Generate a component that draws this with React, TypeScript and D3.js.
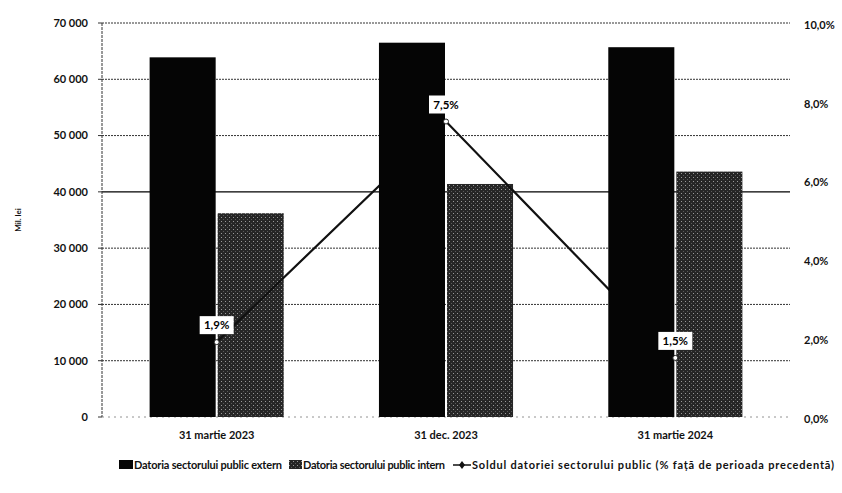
import * as d3 from 'd3';
import React from 'react';

const categories = ["31 martie 2023", "31 dec. 2023", "31 martie 2024"];
const externValues = [63900, 66500, 65700];
const internValues = [36200, 41400, 43600];
const soldValues = [1.9, 7.5, 1.5];
const soldLabels = ["1,9%", "7,5%", "1,5%"];
const leftTicks = [0, 10000, 20000, 30000, 40000, 50000, 60000, 70000];
const rightTicks = [0, 2, 4, 6, 8, 10];

const width = 842;
const height = 493;
const margin = { top: 23, right: 52, bottom: 76, left: 102 };
const font = "Lato, 'Open Sans', sans-serif";

function App(): any {
  const x = d3.scaleBand()
    .domain(categories)
    .range([margin.left, width - margin.right]);

  const yLeft = d3.scaleLinear()
    .domain([0, 70000])
    .range([height - margin.bottom, margin.top]);

  const yRight = d3.scaleLinear()
    .domain([0, 10])
    .range([height - margin.bottom, margin.top]);

  const barW = x.bandwidth() * 0.288;
  const gap = 2;
  const center = (c: string): number => (x(c) || 0) + x.bandwidth() / 2;
  const fmt = (v: number): string => d3.format(",")(v).replace(/,/g, " ");

  const line = d3.line<number>()
    .x((_d, i) => center(categories[i]))
    .y((d) => yRight(d));

  const base = yLeft(0);

  return (
    <svg width={width} height={height}
      style={{ position: "absolute", left: 0, top: 0, background: "#fff" }}>
      <defs>
        <pattern id="dots" width="4" height="4" patternUnits="userSpaceOnUse">
          <rect width="4" height="4" fill="#262626" />
          <rect x="1" y="1" width="1" height="1" fill="#9a9a9a" />
          <rect x="3" y="3" width="1" height="1" fill="#5a5a5a" />
        </pattern>
      </defs>

      {/* gridlines */}
      {leftTicks.filter((t) => t > 0).map((t) => (
        <line key={t} x1={margin.left} x2={width - margin.right}
          y1={yLeft(t)} y2={yLeft(t)}
          stroke={t === 40000 ? "#000" : "#333"}
          strokeWidth={t === 40000 ? 1.3 : 1}
          strokeDasharray={t === 40000 ? undefined : "2,1"} />
      ))}

      {/* y axis line */}
      <line x1={margin.left} x2={margin.left} y1={margin.top} y2={base}
        stroke="#333" strokeWidth={1} strokeDasharray="3,1" />
      <line x1={margin.left} x2={width - margin.right} y1={base} y2={base}
        stroke="#777" strokeWidth={0.8} strokeDasharray="2,4" />

      {/* left ticks */}
      {leftTicks.map((t) => (
        <g key={t}>
          <line x1={margin.left - 4} x2={margin.left} y1={yLeft(t)} y2={yLeft(t)} stroke="#333" />
          <text x={margin.left - 14} y={yLeft(t)} dy="0.35em" textAnchor="end"
            fontFamily={font} fontWeight="bold" fontSize={11} fill="#111">{fmt(t)}</text>
        </g>
      ))}

      {/* right ticks */}
      {rightTicks.map((t) => (
        <text key={t} x={804} y={yRight(t) + 2} dy="0.35em" textAnchor="start"
          fontFamily={font} fontWeight="bold" fontSize={11} fill="#111">
          {t.toFixed(1).replace(".", ",") + "%"}
        </text>
      ))}

      <text transform={`translate(21,${yLeft(35000)}) rotate(-90)`} textAnchor="middle"
        fontFamily={font} fontWeight="bold" fontSize={8} fill="#111">Mil. lei</text>

      {/* intern bars */}
      {categories.map((c, i) => (
        <rect key={c} x={center(c) + gap / 2} width={barW}
          y={yLeft(internValues[i])} height={base - yLeft(internValues[i])} fill="url(#dots)" />
      ))}

      {/* line series */}
      <path d={line(soldValues) || ""} fill="none" stroke="#111" strokeWidth={2.2} />

      {/* extern bars */}
      {categories.map((c, i) => (
        <rect key={c} x={center(c) - barW - gap / 2} width={barW}
          y={yLeft(externValues[i])} height={base - yLeft(externValues[i])} fill="#050505" />
      ))}

      {/* markers and labels */}
      {soldValues.map((v, i) => {
        const cx = center(categories[i]);
        const cy = yRight(v);
        return (
          <g key={i}>
            <circle cx={cx} cy={cy} r={2.5} fill="#fff" stroke="#222" strokeWidth={1} />
            <rect x={cx - 17} y={cy - 26} width={34} height={18} fill="#fff" />
            <text x={cx} y={cy - 17} dy="0.35em" textAnchor="middle"
              fontFamily={font} fontWeight="bold" fontSize={11.5} fill="#000">{soldLabels[i]}</text>
          </g>
        );
      })}

      {/* x labels */}
      {categories.map((c) => (
        <text key={c} x={center(c)} y={435} dy="0.35em" textAnchor="middle"
          fontFamily={font} fontWeight="bold" fontSize={11} fill="#111">{c}</text>
      ))}

      {/* legend */}
      <g fontFamily={font} fontWeight="bold" fontSize={11} fill="#111">
        <rect x={119} y={460} width={14} height={9} fill="#050505" />
        <text x={134} y={465} dy="0.35em" textLength={148} lengthAdjust="spacing">Datoria sectorului public extern</text>
        <rect x={289} y={460} width={13} height={9} fill="url(#dots)" />
        <text x={303} y={465} dy="0.35em" textLength={142} lengthAdjust="spacing">Datoria sectorului public intern</text>
        <line x1={453} x2={471} y1={465} y2={465} stroke="#111" strokeWidth={1.5} />
        <path d="M462,461 L465,465 L462,469 L459,465 Z" fill="#111" />
        <text x={472} y={465} dy="0.35em" textLength={362} lengthAdjust="spacing">Soldul datoriei sectorului public (% față de perioada precedentă)</text>
      </g>
    </svg>
  );
}

export default App;
